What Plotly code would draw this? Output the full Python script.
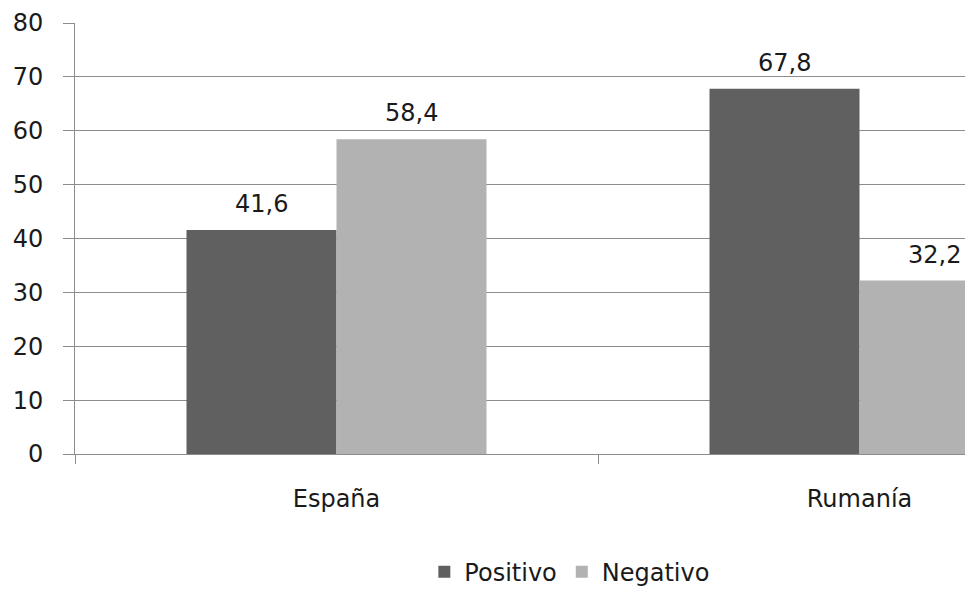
import plotly.graph_objects as go

categories = ["España", "Rumanía"]
series_names = ["Positivo", "Negativo"]
positivo = [41.6, 67.8]
negativo = [58.4, 32.2]
y_ticks = [0, 10, 20, 30, 40, 50, 60, 70, 80]

FONT = "DejaVu Sans"
TEXT = "#1a1a1a"
GRID = "#8c8c8c"
colors = ["#606060", "#b2b2b2"]

fig = go.Figure()
for name, vals, col in zip(series_names, [positivo, negativo], colors):
    fig.add_bar(x=categories, y=vals, name=name, marker=dict(color=col, line=dict(width=0)))

# value labels above bars
for vals, shift in [(positivo, -75), (negativo, 75)]:
    for c, v in zip(categories, vals):
        fig.add_annotation(x=c, y=v, xref="x", yref="y",
                           text=f"{v:.1f}".replace(".", ","),
                           xshift=shift, yshift=10, yanchor="bottom",
                           showarrow=False,
                           font=dict(family=FONT, size=24, color=TEXT))

fig.update_layout(
    width=965, height=590,
    margin=dict(l=75, r=0, t=23, b=136, autoexpand=False),
    paper_bgcolor="white", plot_bgcolor="white",
    font=dict(family=FONT, size=24, color=TEXT),
    barmode="group", bargap=0.4264, bargroupgap=0,
    showlegend=True,
    legend=dict(orientation="h", x=0.556, xanchor="center", y=-0.274, yanchor="middle",
                font=dict(family=FONT, size=24, color=TEXT), traceorder="normal"),
    xaxis=dict(range=[-0.5, 1.2017], showgrid=False, showline=True, linecolor=GRID, linewidth=1,
               ticks="outside", tickson="boundaries", ticklen=9, tickcolor=GRID, tickwidth=1,
               ticklabelstandoff=23, zeroline=False),
    yaxis=dict(range=[0, 80], tickvals=y_ticks, showgrid=True, gridcolor=GRID, gridwidth=1,
               showline=True, linecolor=GRID, linewidth=1, ticks="outside", ticklen=11,
               tickcolor=GRID, tickwidth=1, ticklabelstandoff=15, zeroline=False),
)

fig.write_html("out.html", config={"displayModeBar": False},
               post_script="document.body.style.margin='0';document.body.style.overflow='hidden';")
